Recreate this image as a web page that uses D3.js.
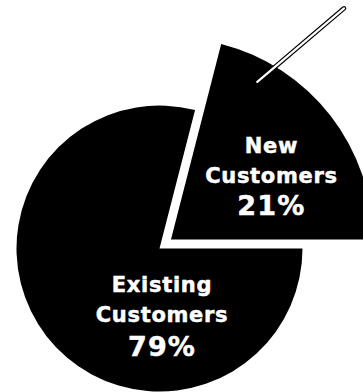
<!DOCTYPE html>
<html>
<head>
<meta charset="utf-8">
<script src="https://cdn.jsdelivr.net/npm/d3@7"></script>
<style>
  html, body { margin: 0; padding: 0; background: #fff; }
  svg { display: block; }
  text { font-family: "DejaVu Sans", "Liberation Sans", sans-serif; font-weight: bold; fill: #fff; stroke: #fff; stroke-width: 0.5px; }
</style>
</head>
<body>
<svg id="chart" width="363" height="392"></svg>
<script>
// Customer mix, in percent
const categories = ["Existing Customers", "New Customers"];
const shares = [79, 21];
const nameLines = [["Existing", "Customers"], ["New", "Customers"]];

const svg = d3.select("#chart");

const cx = 159.5, cy = 248.5;      // pie centre
const rMain = 143;                 // radius of the base pie
const rPulled = 202;               // enlarged radius of the pulled-out slice
const pullOut = 14.5;              // distance the slice is pulled from the centre

// Pie starts at 3 o'clock and runs clockwise; New Customers ends back at 3 o'clock
const pie = d3.pie().sort(null).value(d => d)
  .startAngle(Math.PI / 2).endAngle(Math.PI / 2 + 2 * Math.PI);
const slices = pie(shares);

const polar = (a, r) => [Math.sin(a) * r, -Math.cos(a) * r];

const g = svg.append("g");

slices.forEach((s, i) => {
  const pulled = i === 1;
  const mid = (s.startAngle + s.endAngle) / 2;
  const [ox, oy] = pulled ? polar(mid, pullOut) : [0, 0];
  const r = pulled ? rPulled : rMain;
  const arc = d3.arc().innerRadius(0).outerRadius(r);
  const sg = g.append("g")
    .attr("class", categories[i].replace(/\s+/g, "-").toLowerCase())
    .attr("transform", `translate(${cx + ox},${cy + oy})`);

  sg.append("path").attr("d", arc(s)).attr("fill", "#000");

  if (pulled) {
    // pointer line leaving the slice towards the top-right corner
    const p0 = polar(s.startAngle + (28.7 - 14.4) * Math.PI / 180, r * 0.89);
    const p1 = polar(s.startAngle + (36.8 - 14.4) * Math.PI / 180, r * 1.43);
    const line = d3.line();
    sg.append("path").attr("d", line([p0, p1]))
      .attr("stroke", "#000").attr("stroke-width", 4.6).attr("stroke-linecap", "round");
    sg.append("path").attr("d", line([p0, p1]))
      .attr("stroke", "#fff").attr("stroke-width", 2.2).attr("stroke-linecap", "round");
  }

  // label block: two name lines and the share
  const lx = pulled ? 100.5 : 2.5;
  const ly = pulled ? [-86.8, -56.2, -24.5] : [43.2, 73.2, 107.5];
  const t = sg.append("g").attr("transform", `translate(${lx},0)`);
  nameLines[i].forEach((txt, k) => {
    t.append("text").attr("x", 0).attr("y", ly[k])
      .attr("text-anchor", "middle").attr("font-size", 21)
      .attr("letter-spacing", "0.7px").text(txt);
  });
  t.append("text").attr("x", 0).attr("y", ly[2])
    .attr("text-anchor", "middle").attr("font-size", 27)
    .attr("letter-spacing", "1.2px").text(s.data + "%");
});
</script>
</body>
</html>
